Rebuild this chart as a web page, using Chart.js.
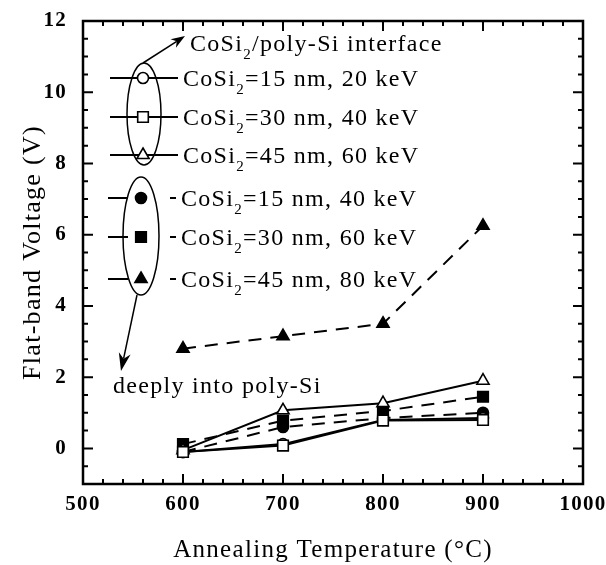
<!DOCTYPE html>
<html>
<head>
<meta charset="utf-8">
<script src="https://cdn.jsdelivr.net/npm/chart.js@4.4.0/dist/chart.umd.min.js"></script>
<style>
  html, body { margin: 0; padding: 0; background: #fff; }
  #wrap { width: 606px; height: 565px; }
</style>
</head>
<body>
<div id="wrap"><canvas id="chart"></canvas></div>
<script>
// annealing temperatures (°C)
const temps = [600, 700, 800, 900];

// CoSi2/poly-Si interface (solid lines)
const cosi15nm20keV = [-0.1, 0.12, 0.8, 0.85];
const cosi30nm40keV = [-0.1, 0.08, 0.78, 0.8];
const cosi45nm60keV = [-0.05, 1.07, 1.27, 1.9];

// deeply into poly-Si (dashed lines)
const cosi15nm40keV = [-0.1, 0.6, 0.85, 1.0];
const cosi30nm60keV = [0.12, 0.78, 1.05, 1.45];
const cosi45nm80keV = [2.8, 3.15, 3.5, 6.25];

const xLabelTicks = [500, 600, 700, 800, 900, 1000];
const yLabelTicks = [0, 2, 4, 6, 8, 10, 12];

const SERIF = '"Liberation Serif", "Times New Roman", serif';

const series = (label, values, style, radius, filled, dashed) => ({
  label,
  data: temps.map((t, i) => ({ x: t, y: values[i] })),
  pointStyle: style,
  pointRadius: radius,
  pointBackgroundColor: filled ? "#000" : "#fff",
  pointBorderColor: "#000",
  pointBorderWidth: 1.6,
  borderColor: "#000",
  borderWidth: 2,
  borderDash: dashed ? [13, 9] : [],
  tension: 0,
  fill: false,
});

// first dataset is drawn on top
const datasets = [
  series("=30 nm, 40 keV", cosi30nm40keV, "rect", 7.5, false, false),
  series("=15 nm, 20 keV", cosi15nm20keV, "circle", 5.5, false, false),
  series("=45 nm, 60 keV", cosi45nm60keV, "triangle", 7, false, false),
  series("=15 nm, 40 keV", cosi15nm40keV, "circle", 5.5, true, true),
  series("=30 nm, 60 keV", cosi30nm60keV, "rect", 7.5, true, true),
  series("=45 nm, 80 keV", cosi45nm80keV, "triangle", 7, true, true),
];

// legend rows, top to bottom: dataset index, marker y
const legendRows = [
  { ds: 1, y: 78 },
  { ds: 0, y: 117 },
  { ds: 2, y: 155 },
  { ds: 3, y: 198 },
  { ds: 4, y: 237 },
  { ds: 5, y: 279 },
];

function drawMarker(ctx, ds, x, y) {
  const r = ds.pointRadius;
  ctx.save();
  ctx.setLineDash([]);
  ctx.beginPath();
  if (ds.pointStyle === "circle") {
    ctx.arc(x, y, r, 0, Math.PI * 2);
  } else if (ds.pointStyle === "rect") {
    const s = r * Math.SQRT1_2;
    ctx.rect(x - s, y - s, 2 * s, 2 * s);
  } else {
    const a = Math.PI * 2 / 3;
    ctx.moveTo(x, y - r);
    ctx.lineTo(x + Math.sin(a) * r, y - Math.cos(a) * r);
    ctx.lineTo(x + Math.sin(2 * a) * r, y - Math.cos(2 * a) * r);
    ctx.closePath();
  }
  ctx.fillStyle = ds.pointBackgroundColor;
  ctx.fill();
  ctx.lineWidth = ds.pointBorderWidth;
  ctx.strokeStyle = "#000";
  ctx.stroke();
  ctx.restore();
}

function cosiText(ctx, x, y, rest) {
  ctx.font = "24px " + SERIF;
  ctx.fillText("CoSi", x, y);
  let w = ctx.measureText("CoSi").width;
  ctx.font = "15px " + SERIF;
  ctx.fillText("2", x + w, y + 8);
  w += ctx.measureText("2").width;
  ctx.font = "24px " + SERIF;
  ctx.fillText(rest, x + w, y);
}

function arrow(ctx, x1, y1, x2, y2, len, half) {
  const ang = Math.atan2(y2 - y1, x2 - x1);
  ctx.beginPath();
  ctx.moveTo(x1, y1);
  ctx.lineTo(x2 - Math.cos(ang) * len * 0.7, y2 - Math.sin(ang) * len * 0.7);
  ctx.stroke();
  ctx.beginPath();
  ctx.moveTo(x2, y2);
  ctx.lineTo(x2 - Math.cos(ang) * len - Math.sin(ang) * half, y2 - Math.sin(ang) * len + Math.cos(ang) * half);
  ctx.lineTo(x2 - Math.cos(ang) * len * 0.7, y2 - Math.sin(ang) * len * 0.7);
  ctx.lineTo(x2 - Math.cos(ang) * len + Math.sin(ang) * half, y2 - Math.sin(ang) * len - Math.cos(ang) * half);
  ctx.closePath();
  ctx.fill();
}

const framePlugin = {
  id: "frame",
  beforeDraw(chart) {
    chart.ctx.letterSpacing = "1.3px";
  },
  afterDraw(chart) {
    const { ctx, chartArea: a, scales } = chart;
    ctx.save();
    ctx.strokeStyle = "#000";
    ctx.fillStyle = "#000";
    ctx.setLineDash([]);

    // inward ticks on all four sides
    ctx.lineWidth = 2;
    ctx.beginPath();
    scales.x.ticks.forEach((t) => {
      if (t.value <= scales.x.min || t.value >= scales.x.max) return;
      const px = scales.x.getPixelForValue(t.value);
      const len = t.value % 100 === 0 ? 10 : 5;
      ctx.moveTo(px, a.bottom);
      ctx.lineTo(px, a.bottom - len);
      ctx.moveTo(px, a.top);
      ctx.lineTo(px, a.top + len);
    });
    scales.y.ticks.forEach((t) => {
      if (t.value <= scales.y.min || t.value >= scales.y.max) return;
      const py = scales.y.getPixelForValue(t.value);
      const len = t.value % 2 === 0 ? 10 : 5;
      ctx.moveTo(a.left, py);
      ctx.lineTo(a.left + len, py);
      ctx.moveTo(a.right, py);
      ctx.lineTo(a.right - len, py);
    });
    ctx.stroke();

    ctx.lineWidth = 2.5;
    ctx.strokeRect(a.left, a.top, a.right - a.left, a.bottom - a.top);

    // legend samples
    const ds = chart.data.datasets;
    ctx.lineWidth = 1.8;
    legendRows.forEach((row, i) => {
      const d = ds[row.ds];
      ctx.beginPath();
      if (i < 3) {
        ctx.moveTo(110, row.y);
        ctx.lineTo(178, row.y);
      } else {
        ctx.moveTo(108, row.y);
        ctx.lineTo(128, row.y);
        ctx.moveTo(170, row.y);
        ctx.lineTo(176, row.y);
      }
      ctx.stroke();
      drawMarker(ctx, d, i < 3 ? 143 : 141, row.y);
      ctx.textBaseline = "alphabetic";
      ctx.textAlign = "left";
      cosiText(ctx, i < 3 ? 183 : 181, row.y + 8, d.label);
    });

    // group ellipses and arrows
    ctx.lineWidth = 1.5;
    ctx.beginPath();
    ctx.ellipse(144, 114, 17, 51, 0, 0, Math.PI * 2);
    ctx.stroke();
    ctx.beginPath();
    ctx.ellipse(141, 236, 18, 59, 0, 0, Math.PI * 2);
    ctx.stroke();
    arrow(ctx, 143, 63, 185, 36, 14, 5);
    arrow(ctx, 137, 295, 121, 371, 18, 6);

    cosiText(ctx, 190, 51, "/poly-Si interface");
    ctx.font = "24px " + SERIF;
    ctx.fillText("deeply into poly-Si", 113, 393);
    ctx.restore();
  },
};

const chart = new Chart(document.getElementById("chart"), {
  type: "line",
  data: { datasets },
  plugins: [framePlugin],
  options: {
    responsive: true,
    maintainAspectRatio: false,
    animation: false,
    layout: { padding: { top: 21, right: 23, left: 0, bottom: 0 } },
    plugins: {
      legend: { display: false },
      tooltip: { enabled: false },
    },
    scales: {
      x: {
        type: "linear",
        min: 500,
        max: 1000,
        afterFit: (scale) => { scale.height = 81; },
        ticks: {
          stepSize: 20,
          autoSkip: false,
          maxRotation: 0,
          padding: 0,
          color: "#000",
          font: { family: SERIF, size: 21, weight: "bold" },
          callback: (v) => (xLabelTicks.includes(v) ? String(v) : ""),
        },
        grid: { display: false },
        border: { display: false },
        title: {
          display: true,
          text: "Annealing Temperature (°C)",
          color: "#000",
          font: { family: SERIF, size: 25 },
          padding: { top: 0, bottom: 0 },
        },
      },
      y: {
        min: -1,
        max: 12,
        afterFit: (scale) => { scale.width = 83; },
        ticks: {
          stepSize: 0.5,
          autoSkip: false,
          padding: 8,
          color: "#000",
          font: { family: SERIF, size: 21, weight: "bold" },
          callback: (v) => (yLabelTicks.includes(v) ? String(v) : ""),
        },
        grid: { display: false },
        border: { display: false },
        title: {
          display: true,
          text: "Flat-band Voltage (V)",
          color: "#000",
          font: { family: SERIF, size: 26 },
          padding: { top: 18, bottom: 0 },
        },
      },
    },
  },
});
</script>
</body>
</html>
